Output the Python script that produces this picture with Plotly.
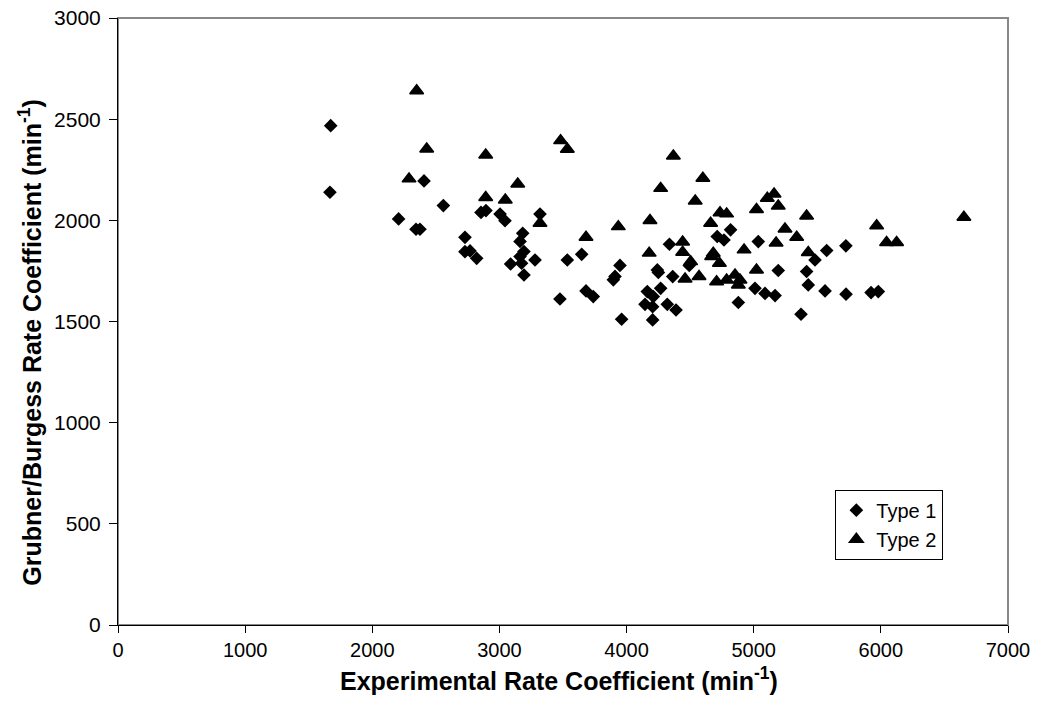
import plotly.graph_objects as go

# Type 1 measurements (experimental vs. Grubner/Burgess rate coefficient, min^-1)
type1_x = [1673, 1667, 2207, 2344, 2375, 2407, 2559, 2729, 2729, 2769, 2821, 2855,
           2894, 3005, 3044, 3088, 3162, 3162, 3174, 3183, 3193, 3193, 3280, 3319,
           3476, 3534, 3647, 3681, 3738, 3896, 3909, 3948, 3961, 4145, 4163, 4205,
           4205, 4210, 4242, 4250, 4268, 4320, 4337, 4363, 4389, 4493, 4713, 4766,
           4818, 4879, 5010, 5036, 5089, 5168, 5193, 5372, 5416, 5429, 5482, 5561,
           5574, 5725, 5726, 5923, 5980]
type1_y = [2468, 2139, 2007, 1956, 1956, 2195, 2073, 1916, 1845, 1849, 1812, 2039,
           2048, 2031, 1998, 1784, 1896, 1821, 1788, 1936, 1846, 1730, 1804, 2031,
           1611, 1804, 1832, 1651, 1623, 1706, 1723, 1777, 1511, 1585, 1648, 1573,
           1508, 1623, 1755, 1742, 1664, 1585, 1882, 1722, 1557, 1777, 1920, 1903,
           1953, 1594, 1664, 1895, 1639, 1628, 1752, 1536, 1747, 1681, 1804, 1651,
           1851, 1874, 1635, 1643, 1648]

# Type 2 measurements
type2_x = [2289, 2349, 2428, 2892, 2892, 3046, 3144, 3319, 3481, 3534, 3681, 3935,
           4178, 4184, 4268, 4368, 4441, 4441, 4460, 4504, 4540, 4570, 4600, 4661,
           4669, 4682, 4708, 4730, 4735, 4787, 4787, 4853, 4879, 4892, 4924, 5022,
           5022, 5107, 5160, 5176, 5193, 5246, 5338, 5416, 5429, 5967, 6045, 6124,
           6653]
type2_y = [2205, 2641, 2353, 2323, 2113, 2101, 2180, 1986, 2394, 2351, 1916, 1969,
           1838, 1999, 2158, 2318, 1893, 1842, 1710, 1796, 2096, 1723, 2208, 1986,
           1821, 1837, 1697, 1788, 2038, 2032, 1705, 1730, 1681, 1705, 1854, 2054,
           1755, 2109, 2130, 1888, 2071, 1957, 1917, 2022, 1841, 1973, 1891, 1891,
           2015]

x_ticks = [0, 1000, 2000, 3000, 4000, 5000, 6000, 7000]
y_ticks = [0, 500, 1000, 1500, 2000, 2500, 3000]

x_title = "<b>Experimental Rate Coefficient (min<sup>-1</sup>)</b>"
y_title = "<b>Grubner/Burgess Rate Coefficient (min<sup>-1</sup>)</b>"

FONT = "Liberation Sans, Arial, sans-serif"

fig = go.Figure()
fig.add_trace(go.Scatter(
    x=type1_x, y=type1_y, mode="markers", name="Type 1",
    marker=dict(symbol="diamond", size=10.5, color="black",
                line=dict(width=0)),
))
fig.add_trace(go.Scatter(
    x=type2_x, y=type2_y, mode="markers", name="Type 2",
    marker=dict(symbol="triangle-up", size=12, color="black",
                line=dict(width=1.5, color="black")),
))

# grey frame on the top and right of the plotting area
fig.add_shape(type="rect", xref="paper", yref="paper", x0=0, y0=0, x1=1, y1=1,
              line=dict(color="#888888", width=2), layer="below")

# axis titles
fig.add_annotation(text=x_title, xref="paper", yref="paper", x=0.496, y=-0.089,
                   xanchor="center", yanchor="middle", showarrow=False,
                   font=dict(size=25))
fig.add_annotation(text=y_title, xref="paper", yref="paper", x=-0.099, y=0.465,
                   xanchor="center", yanchor="middle", showarrow=False,
                   textangle=-90, font=dict(size=25))

fig.update_layout(
    width=1040, height=705,
    margin=dict(l=118, r=32, t=18, b=80),
    paper_bgcolor="white", plot_bgcolor="white",
    font=dict(family=FONT, color="black", size=21),
    showlegend=True,
    legend=dict(
        x=0.806, y=0.223, xanchor="left", yanchor="top",
        bordercolor="black", borderwidth=1, bgcolor="white",
        font=dict(size=20), itemwidth=30,
    ),
    xaxis=dict(
        range=[0, 7000], tickvals=x_ticks, ticktext=[str(v) for v in x_ticks],
        showgrid=False, zeroline=False, automargin=False,
        showline=True, linecolor="black", linewidth=1,
        ticks="outside", ticklen=7, tickcolor="black",
        tickfont=dict(size=20),
    ),
    yaxis=dict(
        range=[0, 3000], tickvals=y_ticks, ticktext=[str(v) for v in y_ticks],
        showgrid=False, zeroline=False, automargin=False,
        showline=True, linecolor="black", linewidth=1,
        ticks="outside", ticklen=8, tickcolor="black",
        tickfont=dict(size=21), ticklabelstandoff=4,
    ),
)

fig.write_html("out.html")
